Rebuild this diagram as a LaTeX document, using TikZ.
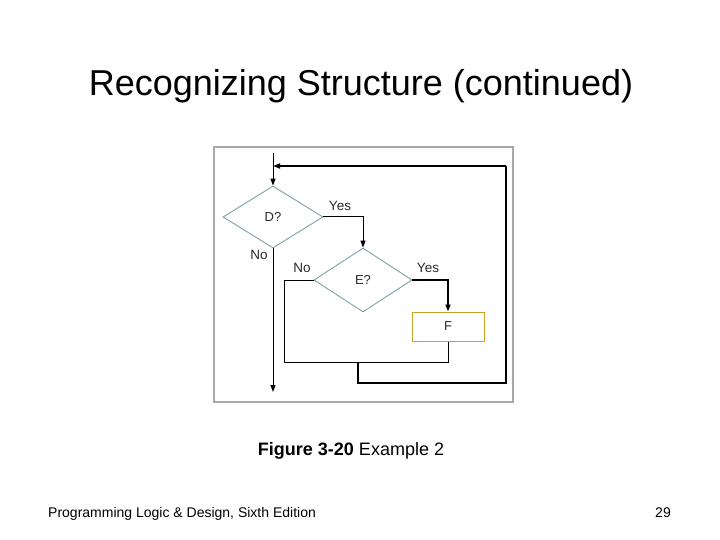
\documentclass[tikz,border=0pt]{standalone}
\usepackage{fontspec}
\setmainfont{Liberation Sans}
\usetikzlibrary{shapes.geometric,arrows.meta}
\definecolor{diagline}{HTML}{6E9A9A}
\definecolor{goldline}{HTML}{C9A227}
\definecolor{framegray}{HTML}{A8A8A8}
\definecolor{labelgray}{HTML}{2A2A2A}
\tikzset{
  decision/.style={diamond,draw=diagline,line width=0.8pt,inner sep=0pt,text=labelgray,font=\fontsize{13}{14}\selectfont},
  process/.style={rectangle,draw=goldline,line width=1pt,inner sep=0pt,text=labelgray,font=\fontsize{13}{14}\selectfont},
  lbl/.style={text=labelgray,font=\fontsize{13.5}{15}\selectfont,inner sep=0pt},
  thin/.style={line width=1pt,black},
  thick/.style={line width=1.8pt,black},
  tip/.style={-{Triangle[length=7pt,width=5pt]}}
}
\begin{document}
\begin{tikzpicture}[x=1pt,y=-1pt]
\useasboundingbox (0,0) rectangle (720,540);
% title
\node[font=\fontsize{36}{42}\selectfont,anchor=base] (title) at (361,96) {Recognizing Structure (continued)};
% frame
\draw[framegray,line width=1.5pt] (214,147) rectangle (513,402);
% nodes
\node[decision,minimum width=100pt,minimum height=62pt] (D) at (273,217) {D?};
\node[decision,minimum width=98pt,minimum height=64pt] (E) at (363,280) {E?};
\node[process,minimum width=72pt,minimum height=29pt] (F) at (448,326.5) {F};
% coordinates
\coordinate (start) at (273,153);
\coordinate (endD) at (273,392);
\coordinate (Eleft) at (284,280);
\coordinate (join) at (284,362);
\coordinate (Fdown) at (448,362);
\coordinate (loopA) at (358,362);
\coordinate (loopB) at (358,383);
\coordinate (loopC) at (506,383);
\coordinate (loopD) at (506,166);
\coordinate (loopE) at (273,166);
% connectors
\draw[thin,tip] (start) -- (D.north);
\draw[thin,tip] (D.south) -- (endD);
\draw[thin,tip] (D.east) -| (E.north);
\draw[thick,tip] (E.east) -| (F.north);
\draw[thin] (E.west) -- (Eleft) -- (join) -- (Fdown) -- (F.south);
\draw[thick] (loopA) -- (loopB) -- (loopC) -- (loopD);
\draw[thick,tip] (loopD) -- (loopE);
% labels
\node[lbl] (yesD) at (340,206) {Yes};
\node[lbl] (noD) at (259,255) {No};
\node[lbl] (noE) at (302,268) {No};
\node[lbl] (yesE) at (428,268) {Yes};
% caption
\node[font=\fontsize{18}{21}\selectfont,anchor=base] (cap) at (351,455) {\textbf{Figure 3-20} Example 2};
% footer
\node[font=\fontsize{14}{17}\selectfont,anchor=base west,inner sep=0pt] (foot) at (48,517) {Programming Logic \& Design, Sixth Edition};
\node[font=\fontsize{14}{17}\selectfont,anchor=base east,inner sep=0pt] (page) at (671,517) {29};
\end{tikzpicture}
\end{document}
